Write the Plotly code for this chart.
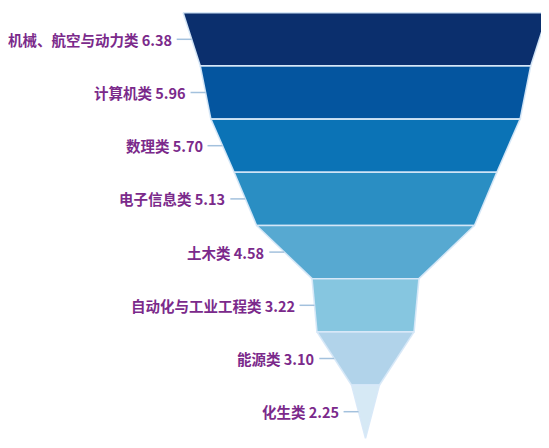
import plotly.graph_objects as go

categories = ["机械、航空与动力类", "计算机类", "数理类", "电子信息类", "土木类",
              "自动化与工业工程类", "能源类", "化生类"]
values = [6.38, 5.96, 5.70, 5.13, 4.58, 3.22, 3.10, 2.25]
colors = ["#0b2f6d", "#04559f", "#0b73b6", "#2a8ec3", "#57a9d1", "#86c6e0", "#b1d3ea", "#d6e9f5"]

funnel_min = 1.91          # value that maps to zero width
px_per_unit = 81.6
page_margin = 8            # default body margin of the html page
W, H = 549 - page_margin, 448 - 2 * page_margin
center_px = 365.5 - page_margin
top_px, row_px = 12.7 - page_margin, 53.2

half = [(v - funnel_min) / 2 for v in values] + [0.0]
n = len(values)

fig = go.Figure()
for i in range(n):
    xs = [-half[i], half[i], half[i + 1], -half[i + 1], -half[i]]
    ys = [i, i, i + 1, i + 1, i]
    fig.add_trace(go.Scatter(x=xs, y=ys, mode="lines", fill="toself",
                             fillcolor=colors[i],
                             line=dict(color="rgba(215,232,248,0.95)", width=1.6),
                             hoverinfo="skip", showlegend=False))

# connector lines and labels
cx, cy = [], []
conn_len = 15 / px_per_unit
for i in range(n):
    ym = i + 0.5
    edge = -(half[i] + half[i + 1]) / 2
    cx += [edge - conn_len, edge, None]
    cy += [ym, ym, None]
    fig.add_annotation(x=edge - conn_len, y=ym, xref="x", yref="y",
                       text=f"{categories[i]} {values[i]:.2f}", showarrow=False,
                       xanchor="right", yanchor="middle", xshift=-3,
                       font=dict(family="Noto Sans CJK SC", size=14.5, color="#7b2a8b",
                                 weight="bold"))
fig.add_trace(go.Scatter(x=cx, y=cy, mode="lines",
                         line=dict(color="#a3c1dd", width=1.5),
                         hoverinfo="skip", showlegend=False))

xmin = -center_px / px_per_unit
xmax = (W - center_px) / px_per_unit
ytop = -top_px / row_px
ybot = (H - top_px) / row_px

fig.update_layout(
    width=W, height=H, margin=dict(l=0, r=0, t=0, b=0),
    paper_bgcolor="white", plot_bgcolor="white",
    xaxis=dict(range=[xmin, xmax], visible=False, fixedrange=True),
    yaxis=dict(range=[ybot, ytop], visible=False, fixedrange=True),
)
fig.write_html("out.html")
